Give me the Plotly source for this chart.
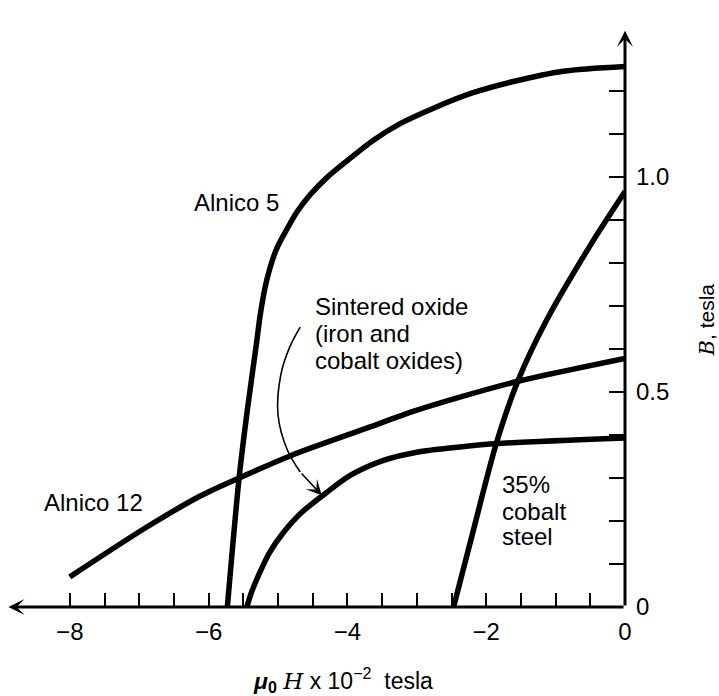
import plotly.graph_objects as go

# ---- data (mu0*H in 1e-2 tesla, B in tesla) ----
alnico5_x = [-5.73, -5.56, -5.44, -5.31, -5.26, -5.19, -5.12, -5.02, -4.87, -4.73, -4.54, -4.30,
             -4.01, -3.63, -3.24, -2.76, -2.19, -1.61, -0.89, 0.0]
alnico5_y = [0.0, 0.301, 0.46, 0.613, 0.675, 0.740, 0.786, 0.833, 0.879, 0.918, 0.958, 0.998,
             1.037, 1.085, 1.124, 1.160, 1.196, 1.222, 1.246, 1.257]

alnico12_x = [-8.0, -6.89, -6.12, -5.56, -4.80, -3.72, -3.03, -2.38, -1.54, 0.0]
alnico12_y = [0.07, 0.186, 0.258, 0.30, 0.353, 0.416, 0.456, 0.488, 0.525, 0.578]

sintered_x = [-5.45, -5.38, -5.26, -5.12, -4.92, -4.68, -4.35, -3.96, -3.48, -3.00, -2.38, -1.84, 0.0]
sintered_y = [0.0, 0.035, 0.081, 0.127, 0.174, 0.217, 0.26, 0.306, 0.341, 0.360, 0.372, 0.380, 0.393]

cobalt_x = [-2.47, -2.19, -1.85, -1.54, -1.14, -0.50, 0.0]
cobalt_y = [0.0, 0.175, 0.383, 0.527, 0.664, 0.841, 0.966]

# curved pointer for the "Sintered oxide" label
pointer_x = [-4.68, -4.83, -4.96, -5.00, -4.87, -4.68]
pointer_y = [0.651, 0.605, 0.540, 0.447, 0.367, 0.314]
pointer_tip = (-4.37, 0.26)

x_tickvals = [-8 + 0.5 * i for i in range(17)]
x_ticktext = ["\u22128", "", "", "", "\u22126", "", "", "", "\u22124", "", "", "", "\u22122", "", "", "", "0"]
y_tickvals = [round(0.1 * i, 1) for i in range(13)]
y_ticktext = ["0", "", "", "", "", "0.5", "", "", "", "", "1.0", "", ""]

FONT = "Liberation Sans, Arial, Helvetica, sans-serif"

fig = go.Figure()
for xs, ys in [(alnico5_x, alnico5_y), (alnico12_x, alnico12_y),
               (sintered_x, sintered_y), (cobalt_x, cobalt_y)]:
    fig.add_trace(go.Scatter(x=xs, y=ys, mode="lines",
                             line=dict(color="black", width=5.5, shape="spline", smoothing=0.8),
                             showlegend=False, hoverinfo="skip"))

fig.add_trace(go.Scatter(x=pointer_x, y=pointer_y, mode="lines",
                         line=dict(color="black", width=1.6, shape="spline"),
                         showlegend=False, hoverinfo="skip"))

XMIN = -618 / 69.4
YMAX = 577 / 430

ann = []
# axis lines with arrowheads
ann.append(dict(x=XMIN + 0.02, y=0, ax=0, ay=0, xref="x", yref="y", axref="x", ayref="y",
                text="", showarrow=True, arrowhead=3, arrowsize=0.9, arrowwidth=3, arrowcolor="black"))
ann.append(dict(x=0, y=YMAX - 0.002, ax=0, ay=0, xref="x", yref="y", axref="x", ayref="y",
                text="", showarrow=True, arrowhead=3, arrowsize=0.9, arrowwidth=3, arrowcolor="black"))
# pointer arrowhead
ann.append(dict(x=pointer_tip[0], y=pointer_tip[1], ax=pointer_x[-1], ay=pointer_y[-1],
                xref="x", yref="y", axref="x", ayref="y", text="", showarrow=True,
                arrowhead=3, arrowsize=1.6, arrowwidth=1.6, arrowcolor="black"))

def label(text, x, y, size=24, xanchor="left", xref="x", yref="y", **kw):
    ann.append(dict(x=x, y=y, xref=xref, yref=yref, text=text, showarrow=False,
                    xanchor=xanchor, yanchor="middle", font=dict(family=FONT, size=size, color="black"), **kw))

label("Alnico 5", -6.24, 0.94)
label("Sintered oxide", -4.50, 0.70)
label("(iron and", -4.50, 0.637)
label("cobalt oxides)", -4.50, 0.574)
label("Alnico 12", -8.40, 0.242)
label("35%", -1.80, 0.286)
label("cobalt", -1.80, 0.223)
label("steel", -1.80, 0.165)

# axis titles (paper coordinates)
label('<b><i>\u03bc</i></b><sub><b>0</b></sub>\u00a0<span style="font-family:DejaVu Serif"><i>H</i></span> x 10<sup>\u22122</sup>\u00a0 tesla',
      0.544, -0.1265, size=23, xanchor="center", xref="paper", yref="paper")
label('<span style="font-family:DejaVu Serif"><i>B</i></span>, tesla', 1.133, 0.497, size=21,
      xanchor="center", xref="paper", yref="paper", textangle=-90)

fig.update_layout(
    width=719, height=696, autosize=False,
    margin=dict(l=7, r=94, t=30, b=89, pad=0),
    paper_bgcolor="white", plot_bgcolor="white",
    font=dict(family=FONT, color="black", size=24),
    annotations=ann,
    xaxis=dict(range=[XMIN, 0], showgrid=False, zeroline=False, showline=False,
               tickmode="array", tickvals=x_tickvals, ticktext=x_ticktext,
               ticks="inside", ticklen=14, tickwidth=2.2, tickcolor="black",
               tickfont=dict(family=FONT, size=24, color="black"), ticklabelstandoff=8),
    yaxis=dict(range=[0, YMAX], side="right", showgrid=False, zeroline=False, showline=False,
               tickmode="array", tickvals=y_tickvals, ticktext=y_ticktext,
               ticks="inside", ticklen=16, tickwidth=2.2, tickcolor="black",
               tickfont=dict(family=FONT, size=24, color="black"), ticklabelstandoff=10),
)

fig.write_html("out.html")
